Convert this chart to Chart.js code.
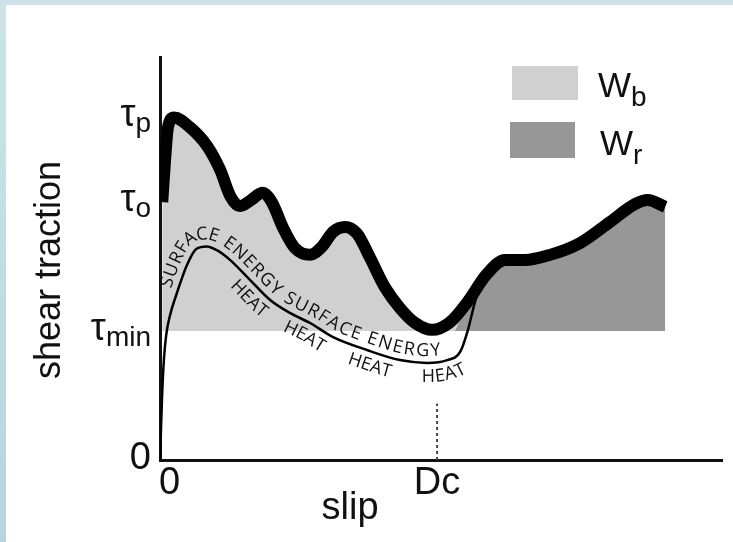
<!DOCTYPE html>
<html>
<head>
<meta charset="utf-8">
<script src="https://cdn.jsdelivr.net/npm/chart.js@4.4.1/dist/chart.umd.min.js"></script>
<style>
  html, body { margin: 0; padding: 0; background: #fff; }
  #wrap { width: 733px; height: 542px; position: relative; }
</style>
</head>
<body>
<div id="wrap"><canvas id="c" width="733" height="542"></canvas></div>
<script>
// Slip-weakening friction sketch: traction vs slip (schematic units, 0-100 on both axes)
const TAU_P = 85;
const TAU_O = 64;
const TAU_MIN = 32;
const DC = 49.3;

// shear traction along the fault as slip grows (thick curve)
const tractionSlip  = [0.4, 0.9, 1.4, 2.5, 5.3, 8.4, 10.7, 12.5, 14.2, 16.0, 18.3, 19.9, 21.9, 24.0, 26.7, 28.8, 30.8, 32.9, 35.1, 37.4, 40.0, 42.7, 45.4, 48.4, 51.6, 54.6, 58.2, 61.4, 64.9, 69.4, 74.7, 80.1, 84.5, 86.8, 89.9];
const tractionValue = [TAU_O, 74.4, 82.4, TAU_P, 82.6, 77.9, 72.0, 65.5, 63.0, 64.3, 66.3, 64.0, 57.6, 52.6, 50.9, 52.9, 56.6, 57.8, 56.1, 50.1, 42.9, 37.7, 34.0, 32.3, 34.2, 39.0, 46.2, 49.6, 49.6, 50.9, 53.8, 59.1, 63.5, 64.5, 62.8];

// split of the breakdown work into surface energy and heat (thin curve)
const partitionSlip  = [0, 0.35, 0.7, 1.1, 1.8, 3.0, 4.8, 6.5, 8.3, 10.2, 12.5, 16.0, 19.6, 23.1, 26.7, 30.8, 36.8, 42.7, 47.5, 51.1, 53.4, 54.8, 55.9, 56.4];
const partitionValue = [0, 15, 25, 31, 36, 41.4, 48.4, 52.4, 53.0, 52.0, 49.6, 44.7, 39.7, 36.5, 34.0, 30.5, 27.3, 24.8, 24.1, 24.8, 26.8, 32.3, 38.5, 40.9];

// where breakdown work (Wb) ends and radiated work (Wr) begins
const wbEdgeSlip  = [52.5, 55.2];
const wbEdgeValue = [TAU_MIN, 40.4];

// dotted marker under Dc
const dcMarkValue = [0, 14];

// axis labels
const yTickValues = [0, TAU_MIN, TAU_O, TAU_P];
const yTickMain   = ['0', 'τ', 'τ', 'τ'];
const yTickSub    = ['', 'min', 'o', 'p'];
const xTickValues = [0, DC];
const xTickLabels = ['0', 'Dc'];

// legend entries
const legendMain = ['W', 'W'];
const legendSub  = ['b', 'r'];

// captions along the thin curve
const energyCaption = 'SURFACE ENERGY SURFACE ENERGY';
const energyFromSlip = 3.4;
const energyToSlip = 49.3;
const heatCaption = 'HEAT';
const heatSlip = [17.6, 27.0, 38.0, 50.0];

const LIGHT = '#d0d0d0';
const DARK = '#979797';
const SANS = '"Liberation Sans", Arial, sans-serif';
const CAPTION_FONT = '18px "Open Sans", "DejaVu Sans", sans-serif';

function toPoints(xs, ys) { return xs.map((x, i) => ({ x, y: ys[i] })); }

function workFill(ctx) {
  const chart = ctx.chart;
  const { chartArea, scales } = chart;
  if (!chartArea || !scales.x || !scales.y) return LIGHT;
  const ax = scales.x.getPixelForValue(wbEdgeSlip[0]), ay = scales.y.getPixelForValue(wbEdgeValue[0]);
  const bx = scales.x.getPixelForValue(wbEdgeSlip[1]), by = scales.y.getPixelForValue(wbEdgeValue[1]);
  const len = Math.hypot(bx - ax, by - ay) || 1;
  const nx = -(by - ay) / len, ny = (bx - ax) / len;
  const L = 800;
  const g = chart.ctx.createLinearGradient(ax - nx * L, ay - ny * L, ax + nx * L, ay + ny * L);
  g.addColorStop(0, LIGHT);
  g.addColorStop(0.5, LIGHT);
  g.addColorStop(0.5, DARK);
  g.addColorStop(1, DARK);
  return g;
}

// ---- path helpers for text that follows the thin curve ----
function sampleCurve(meta) {
  const pts = meta.data;
  const out = [];
  for (let i = 0; i < pts.length - 1; i++) {
    const a = pts[i], b = pts[i + 1];
    const c1x = a.cp2x ?? a.x, c1y = a.cp2y ?? a.y;
    const c2x = b.cp1x ?? b.x, c2y = b.cp1y ?? b.y;
    const N = 40;
    for (let k = 0; k < N; k++) {
      const t = k / N, u = 1 - t;
      out.push([
        u * u * u * a.x + 3 * u * u * t * c1x + 3 * u * t * t * c2x + t * t * t * b.x,
        u * u * u * a.y + 3 * u * u * t * c1y + 3 * u * t * t * c2y + t * t * t * b.y
      ]);
    }
  }
  const last = pts[pts.length - 1];
  out.push([last.x, last.y]);
  return out;
}

// parallel curve shifted along the upward normal by `offset` px (negative = below)
function offsetPath(base, offset) {
  const n = base.length;
  const pts = base.map((p, i) => {
    const a = base[Math.max(0, i - 3)], b = base[Math.min(n - 1, i + 3)];
    const ang = Math.atan2(b[1] - a[1], b[0] - a[0]);
    return [p[0] + Math.sin(ang) * offset, p[1] - Math.cos(ang) * offset];
  });
  const len = [0];
  for (let i = 1; i < n; i++) len.push(len[i - 1] + Math.hypot(pts[i][0] - pts[i - 1][0], pts[i][1] - pts[i - 1][1]));
  return { pts, len };
}

function locate(path, s) {
  const { pts, len } = path;
  s = Math.max(0, Math.min(len[len.length - 1], s));
  let lo = 0, hi = len.length - 1;
  while (hi - lo > 1) {
    const m = (lo + hi) >> 1;
    if (len[m] <= s) lo = m; else hi = m;
  }
  const f = (s - len[lo]) / ((len[hi] - len[lo]) || 1);
  return [pts[lo][0] + f * (pts[hi][0] - pts[lo][0]), pts[lo][1] + f * (pts[hi][1] - pts[lo][1])];
}

function drawChar(ctx, path, ch, s) {
  const p = locate(path, s), a = locate(path, s - 4), b = locate(path, s + 4);
  ctx.save();
  ctx.translate(p[0], p[1]);
  ctx.rotate(Math.atan2(b[1] - a[1], b[0] - a[0]));
  ctx.fillText(ch, 0, 0);
  ctx.restore();
}

function indexAtPixelX(base, px) {
  for (let i = 0; i < base.length; i++) if (base[i][0] >= px) return i;
  return base.length - 1;
}

// first and last glyph centres at s0 / s1, even tracking in between
function textBetween(ctx, path, text, s0, s1) {
  const chars = [...text];
  const w = chars.map(c => ctx.measureText(c).width);
  let natural = 0;
  for (let i = 1; i < chars.length; i++) natural += (w[i - 1] + w[i]) / 2;
  const track = (s1 - s0 - natural) / (chars.length - 1);
  let s = s0;
  chars.forEach((c, i) => {
    if (i > 0) s += (w[i - 1] + w[i]) / 2 + track;
    drawChar(ctx, path, c, s);
  });
}

function textCentered(ctx, path, text, sc, track) {
  const chars = [...text];
  const w = chars.map(c => ctx.measureText(c).width);
  const total = w.reduce((a, b) => a + b, 0) + track * (chars.length - 1);
  let s = sc - total / 2;
  chars.forEach((c, i) => {
    drawChar(ctx, path, c, s + w[i] / 2);
    s += w[i] + track;
  });
}

const decorations = {
  id: 'decorations',
  beforeDraw(chart) {
    const ctx = chart.ctx;
    ctx.save();
    ctx.fillStyle = '#ffffff';
    ctx.fillRect(0, 0, chart.width, chart.height);
    const g = ctx.createLinearGradient(0, 0, 0, chart.height);
    g.addColorStop(0, '#cde3e9');
    g.addColorStop(1, '#b9d4dd');
    ctx.fillStyle = g;
    ctx.fillRect(0, 0, 6, chart.height);
    ctx.fillStyle = '#cde3e9';
    ctx.fillRect(0, 0, chart.width, 5);
    ctx.restore();
  },
  afterDatasetsDraw(chart) {
    const ctx = chart.ctx;
    const { x: xs, y: ys } = chart.scales;
    const area = chart.chartArea;

    // captions along the thin curve
    const base = sampleCurve(chart.getDatasetMeta(1));
    ctx.save();
    ctx.fillStyle = '#111';
    ctx.textAlign = 'center';
    ctx.textBaseline = 'middle';
    ctx.font = CAPTION_FONT;
    const above = offsetPath(base, 12);
    const i0 = indexAtPixelX(base, xs.getPixelForValue(energyFromSlip));
    const i1 = indexAtPixelX(base, xs.getPixelForValue(energyToSlip));
    textBetween(ctx, above, energyCaption, above.len[i0], above.len[i1]);
    const below = offsetPath(base, -14);
    heatSlip.forEach(v => {
      const i = indexAtPixelX(base, xs.getPixelForValue(v));
      textCentered(ctx, below, heatCaption, below.len[i], 0);
    });
    ctx.restore();

    // y tick labels (with subscripts)
    ctx.save();
    ctx.fillStyle = '#111';
    ctx.textBaseline = 'alphabetic';
    ctx.textAlign = 'left';
    yTickValues.forEach((v, i) => {
      const py = ys.getPixelForValue(v);
      ctx.font = '28px ' + SANS;
      const sw = ctx.measureText(yTickSub[i]).width;
      ctx.font = '38px ' + SANS;
      const mw = ctx.measureText(yTickMain[i]).width;
      const right = area.left - 9;
      const x0 = right - sw - mw;
      ctx.fillText(yTickMain[i], x0, py + 9);
      if (yTickSub[i]) {
        ctx.font = '28px ' + SANS;
        ctx.fillText(yTickSub[i], x0 + mw, py + 15);
      }
    });

    // x tick labels
    ctx.font = '38px ' + SANS;
    ctx.textAlign = 'center';
    xTickValues.forEach((v, i) => {
      const w = ctx.measureText(xTickLabels[i]).width;
      const px = Math.max(xs.getPixelForValue(v), area.left + w / 2 - 1);
      ctx.fillText(xTickLabels[i], px, area.bottom + 34);
    });

    // axis titles
    ctx.fillText('slip', 350, area.bottom + 59);
    ctx.save();
    ctx.translate(60, 270);
    ctx.rotate(-Math.PI / 2);
    ctx.font = '36px ' + SANS;
    ctx.fillText('shear traction', 0, 0);
    ctx.restore();

    // legend
    const boxes = [[512, 66, 66, 34, LIGHT], [510, 122, 65, 36, DARK]];
    const labelPos = [[598, 97], [600, 155]];
    boxes.forEach((b, i) => {
      ctx.fillStyle = b[4];
      ctx.fillRect(b[0], b[1], b[2], b[3]);
      ctx.fillStyle = '#111';
      ctx.textAlign = 'left';
      ctx.font = '35px ' + SANS;
      ctx.fillText(legendMain[i], labelPos[i][0], labelPos[i][1]);
      const mw = ctx.measureText(legendMain[i]).width;
      ctx.font = '28px ' + SANS;
      ctx.fillText(legendSub[i], labelPos[i][0] + mw, labelPos[i][1] + 9);
    });
    ctx.restore();
  }
};

const hiddenAxis = {
  type: 'linear',
  min: 0,
  max: 100,
  ticks: { display: false },
  grid: { display: false, drawTicks: false },
  border: { display: true, color: '#111', width: 3 }
};

new Chart(document.getElementById('c'), {
  type: 'line',
  data: {
    datasets: [
      {
        label: 'shear traction',
        data: toPoints(tractionSlip, tractionValue),
        borderColor: '#000',
        borderWidth: 12,
        borderJoinStyle: 'round',
        borderCapStyle: 'butt',
        cubicInterpolationMode: 'monotone',
        pointRadius: 0,
        fill: { value: TAU_MIN },
        backgroundColor: workFill
      },
      {
        label: 'energy partition',
        data: toPoints(partitionSlip, partitionValue),
        borderColor: '#000',
        borderWidth: 2.5,
        cubicInterpolationMode: 'monotone',
        pointRadius: 0,
        fill: false
      },
      {
        label: 'Dc',
        data: dcMarkValue.map(v => ({ x: DC, y: v })),
        borderColor: '#444',
        borderWidth: 2,
        borderDash: [3, 3],
        pointRadius: 0,
        fill: false
      }
    ]
  },
  options: {
    responsive: false,
    animation: false,
    layout: { padding: { left: 160, top: 57, right: 11, bottom: 82 } },
    scales: {
      x: Object.assign({}, hiddenAxis),
      y: Object.assign({}, hiddenAxis)
    },
    plugins: {
      legend: { display: false },
      tooltip: { enabled: false },
      filler: { drawTime: 'beforeDatasetsDraw' }
    }
  },
  plugins: [decorations]
});
</script>
</body>
</html>
